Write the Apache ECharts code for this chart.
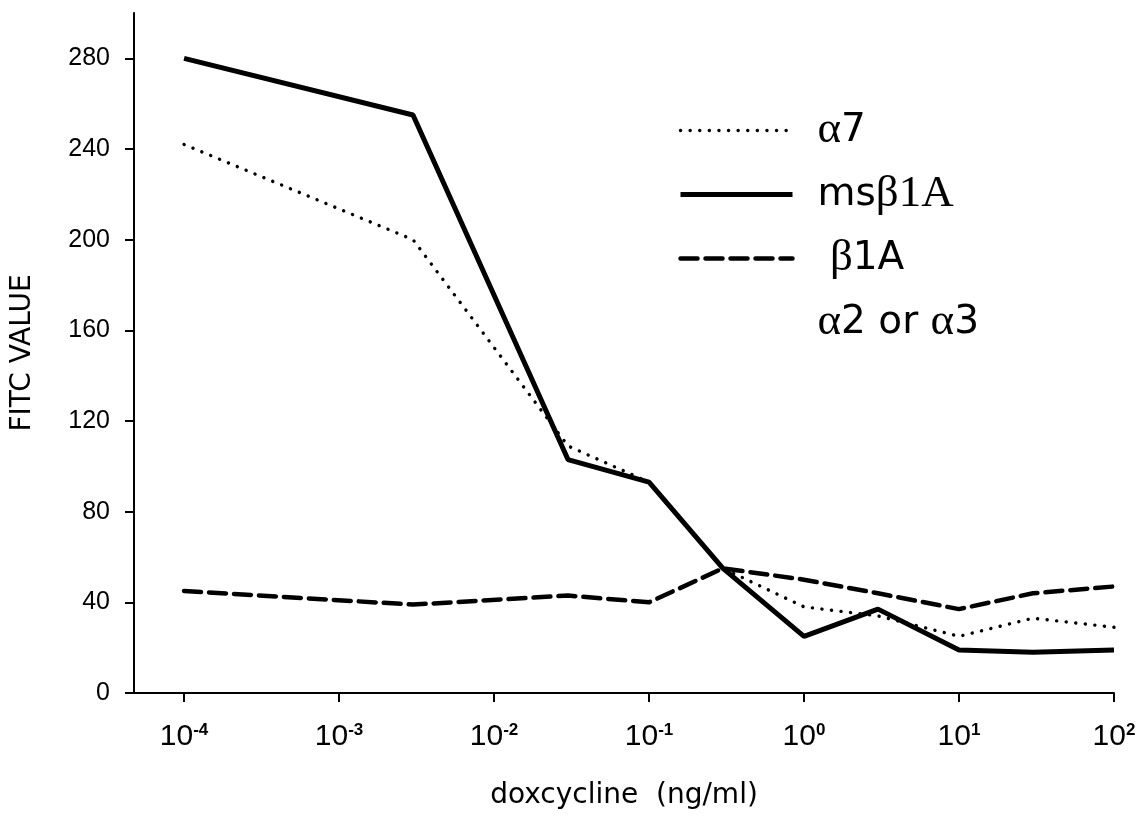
<!DOCTYPE html>
<html>
<head>
<meta charset="UTF-8">
<title>FITC value vs doxcycline</title>
<style>
  html, body { margin: 0; padding: 0; background: #fff; }
  #chart { width: 1143px; height: 820px; }
</style>
<script src="https://cdn.jsdelivr.net/npm/echarts@6/dist/echarts.min.js"></script>
</head>
<body>
<div id="chart"></div>
<script>
// doses (ng/ml)
var doses = [0.0001, 0.003, 0.03, 0.1, 0.3, 1, 3, 10, 30, 100];
var alpha7 = [242, 200, 109, 93, 55, 38, 34, 25, 33, 29];
var msBeta1A = [280, 255, 103, 93, 55, 25, 37, 19, 18, 19];
var beta1A = [45, 39, 43, 40, 55, 50, 44, 37, 44, 47];
var xTicks = [0.0001, 0.001, 0.01, 0.1, 1, 10, 100];
var yTicks = [0, 40, 80, 120, 160, 200, 240, 280];
var seriesNames = ['α7', 'msβ1A', 'β1A', 'α2 or α3'];

function pairs(ys) {
  return doses.map(function (d, i) { return [d, ys[i]]; });
}

var sans = 'Liberation Sans, Arial, sans-serif';
var wide = 'DejaVu Sans, Liberation Sans, sans-serif';
var serif = 'Liberation Serif, Times New Roman, serif';

var chart = echarts.init(document.getElementById('chart'));

var option = {
  animation: false,
  backgroundColor: '#fff',
  grid: { left: 134, right: 29, top: 13, bottom: 127 },
  legend: {
    orient: 'vertical',
    left: 673,
    top: 103,
    itemWidth: 112,
    itemHeight: 14,
    itemGap: 19,
    selectedMode: false,
    data: seriesNames,
    itemStyle: { opacity: 0 },
    lineStyle: { width: 'inherit' },
    textStyle: {
      fontFamily: wide,
      fontSize: 39,
      lineHeight: 43,
      color: '#000',
      padding: [0, 0, 0, 20],
      rich: {
        g: { fontFamily: serif, fontSize: 45, color: '#000' },
        s: { fontFamily: wide, fontSize: 39, color: '#000' }
      }
    },
    formatter: function (name) {
      if (name === 'α7') return '{g|α}{s|7}';
      if (name === 'msβ1A') return '{s|ms}{g|β1A}';
      if (name === 'β1A') return '{s| }{g|β}{s|1A}';
      return '{g|α}{s|2 or }{g|α}{s|3}';
    }
  },
  xAxis: {
    type: 'log',
    logBase: 10,
    min: Math.pow(10, -4.323),
    max: 100,
    name: 'doxcycline  (ng/ml)',
    nameLocation: 'middle',
    nameGap: 89,
    nameTextStyle: { fontFamily: wide, fontSize: 28, color: '#000' },
    splitLine: { show: false },
    axisLine: { lineStyle: { color: '#000', width: 2 } },
    axisTick: {
      customValues: xTicks,
      length: 9,
      lineStyle: { color: '#000', width: 2 }
    },
    axisLabel: {
      customValues: xTicks,
      margin: 29,
      color: '#000',
      fontFamily: sans,
      fontSize: 30,
      formatter: function (v) {
        var e = Math.round(Math.log10(v));
        return '{b|10}{sup|' + e + '}';
      },
      rich: {
        b: { fontFamily: sans, fontSize: 30, color: '#000', verticalAlign: 'bottom' },
        sup: { fontFamily: sans, fontSize: 17, fontWeight: 'bold', color: '#000', verticalAlign: 'top', padding: [0, 0, 13, 0] }
      }
    }
  },
  yAxis: {
    type: 'value',
    min: 0,
    max: 300,
    name: 'FITC VALUE',
    nameLocation: 'middle',
    nameGap: 97,
    nameTextStyle: { fontFamily: wide, fontSize: 28, color: '#000' },
    splitLine: { show: false },
    axisLine: { show: true, lineStyle: { color: '#000', width: 2 } },
    axisTick: {
      show: true,
      customValues: yTicks,
      length: 9,
      lineStyle: { color: '#000', width: 2 }
    },
    axisLabel: {
      customValues: yTicks,
      margin: 24,
      color: '#000',
      fontFamily: sans,
      fontSize: 25
    }
  },
  series: [
    {
      name: 'α7',
      type: 'line',
      symbol: 'none',
      data: pairs(alpha7),
      lineStyle: { color: '#000', width: 3.4, type: [0.1, 9.5], cap: 'round' },
      itemStyle: { color: '#000' },
      z: 3
    },
    {
      name: 'msβ1A',
      type: 'line',
      symbol: 'none',
      data: pairs(msBeta1A),
      lineStyle: { color: '#000', width: 5, type: 'solid' },
      itemStyle: { color: '#000' },
      z: 2
    },
    {
      name: 'β1A',
      type: 'line',
      symbol: 'none',
      data: pairs(beta1A),
      lineStyle: { color: '#000', width: 4.5, type: [17, 8], cap: 'round' },
      itemStyle: { color: '#000' },
      z: 2
    },
    {
      name: 'α2 or α3',
      type: 'line',
      symbol: 'none',
      data: [],
      lineStyle: { color: 'rgba(0,0,0,0)', width: 0, opacity: 0 },
      itemStyle: { color: 'rgba(0,0,0,0)' }
    }
  ]
};

chart.setOption(option);
</script>
</body>
</html>
